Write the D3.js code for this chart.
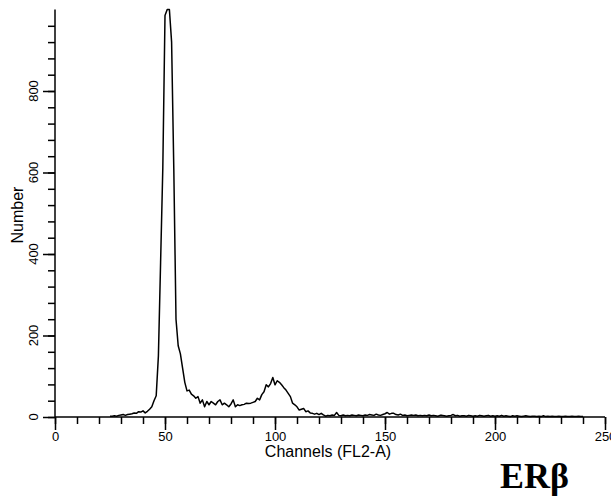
<!DOCTYPE html>
<html>
<head>
<meta charset="utf-8">
<script src="https://cdn.jsdelivr.net/npm/d3@7/dist/d3.min.js"></script>
<style>
  body { margin: 0; background: #fff; }
  svg { display: block; font-family: "Liberation Sans", Arial, sans-serif; }
</style>
</head>
<body>
<div id="chart"></div>
<script>
// histogram counts, one per channel starting at firstChannel
const firstChannel = 25;
const counts = [
  2, 2, 3, 2, 4, 5, 6, 4, 6, 7,
  8, 10, 9, 13, 12, 15, 10, 14, 19, 25,
  40, 52, 150, 380, 610, 985, 1000, 1000, 920, 610,
  240, 175, 155, 120, 85, 64, 66, 56, 52, 46,
  50, 34, 42, 25, 38, 30, 38, 34, 30, 38,
  42, 30, 34, 30, 25, 32, 42, 25, 30, 28,
  30, 31, 34, 33, 34, 36, 38, 46, 42, 55,
  62, 79, 74, 82, 97, 79, 89, 85, 79, 72,
  66, 58, 50, 34, 30, 25, 17, 19, 21, 13,
  15, 10, 9, 7, 9, 6, 9, 5, 2, 4,
  3, 5, 4, 11, 4, 3, 5, 3, 4, 3,
  5, 4, 3, 5, 4, 3, 5, 4, 6, 5,
  4, 7, 5, 4, 6, 8, 11, 7, 9, 9,
  6, 5, 7, 4, 5, 3, 4, 5, 4, 5,
  3, 4, 3, 4, 3, 5, 3, 4, 3, 2,
  4, 4, 3, 2, 3, 4, 6, 3, 4, 2,
  3, 3, 2, 4, 3, 2, 3, 2, 4, 3,
  2, 3, 4, 2, 3, 2, 3, 2, 4, 2,
  3, 2, 1, 3, 2, 3, 2, 1, 2, 3,
  2, 1, 2, 2, 1, 2, 1, 3, 1, 2,
  1, 2, 1, 1, 2, 1, 1, 2, 1, 1,
  2, 1, 1, 2, 1, 1
];

const xMajorTicks = [0, 50, 100, 150, 200, 250];
const yMajorTicks = [0, 200, 400, 600, 800];
const xLabel = 'Channels (FL2-A)';
const yLabel = 'Number';
const panelLabel = 'ERβ';

const width = 611, height = 501;

const svg = d3.select('#chart')
  .append('svg')
  .attr('width', width)
  .attr('height', height);

const x = d3.scaleLinear().domain([0, 250]).range([55, 605]);
const y = d3.scaleLinear().domain([0, 1000]).range([417, 9.5]);

// histogram line
const data = counts.map((c, i) => ({ ch: firstChannel + i, n: c }));
svg.append('path')
  .datum(data)
  .attr('fill', 'none')
  .attr('stroke', '#000')
  .attr('stroke-width', 1.5)
  .attr('stroke-linejoin', 'round')
  .attr('d', d3.line().x(d => x(d.ch)).y(d => y(d.n)));

// x axis: minor ticks every 10, labels every 50
const xAxis = svg.append('g').attr('transform', `translate(0,${y(0)})`);
xAxis.call(d3.axisBottom(x).tickValues(d3.range(0, 251, 10)).tickSize(7).tickFormat(''));
xAxis.append('g').call(d3.axisBottom(x).tickValues(xMajorTicks).tickSize(13).tickFormat(d3.format('d')))
  .call(g => g.select('.domain').remove())
  .call(g => g.selectAll('text').attr('dy', 0).attr('y', 24).attr('font-size', 13).attr('fill', '#000')
    .attr('font-family', '"Liberation Sans", Arial, sans-serif'));
xAxis.selectAll('.domain, line').attr('stroke', '#000').attr('stroke-width', 1.5);
xAxis.select('.domain').attr('d', `M${x(0)},0H${x(250)}`);

// y axis: minor ticks every 40, labels every 200
const yAxis = svg.append('g').attr('transform', `translate(${x(0)},0)`);
yAxis.call(d3.axisLeft(y).tickValues(d3.range(0, 961, 40)).tickSize(7).tickFormat(''));
yAxis.append('g').call(d3.axisLeft(y).tickValues(yMajorTicks).tickSize(12).tickFormat(''))
  .call(g => g.select('.domain').remove());
yAxis.selectAll('.domain, line').attr('stroke', '#000').attr('stroke-width', 1.5);
yAxis.select('.domain').attr('d', `M0,${y(0)}V${y(1000)}`);

svg.append('g').selectAll('text')
  .data(yMajorTicks)
  .join('text')
  .attr('transform', d => `translate(38,${y(d)}) rotate(-90)`)
  .attr('text-anchor', 'middle')
  .attr('font-size', 13)
  .text(d => d);

// axis titles
svg.append('text')
  .attr('x', 328)
  .attr('y', 457)
  .attr('text-anchor', 'middle')
  .attr('font-size', 16)
  .text(xLabel);

svg.append('text')
  .attr('transform', `translate(23,215) rotate(-90)`)
  .attr('text-anchor', 'middle')
  .attr('font-size', 16)
  .text(yLabel);

svg.append('text')
  .attr('x', 500)
  .attr('y', 488)
  .attr('font-family', '"Liberation Serif", "Times New Roman", serif')
  .attr('font-weight', 'bold')
  .attr('font-size', 36)
  .text(panelLabel);
</script>
</body>
</html>
